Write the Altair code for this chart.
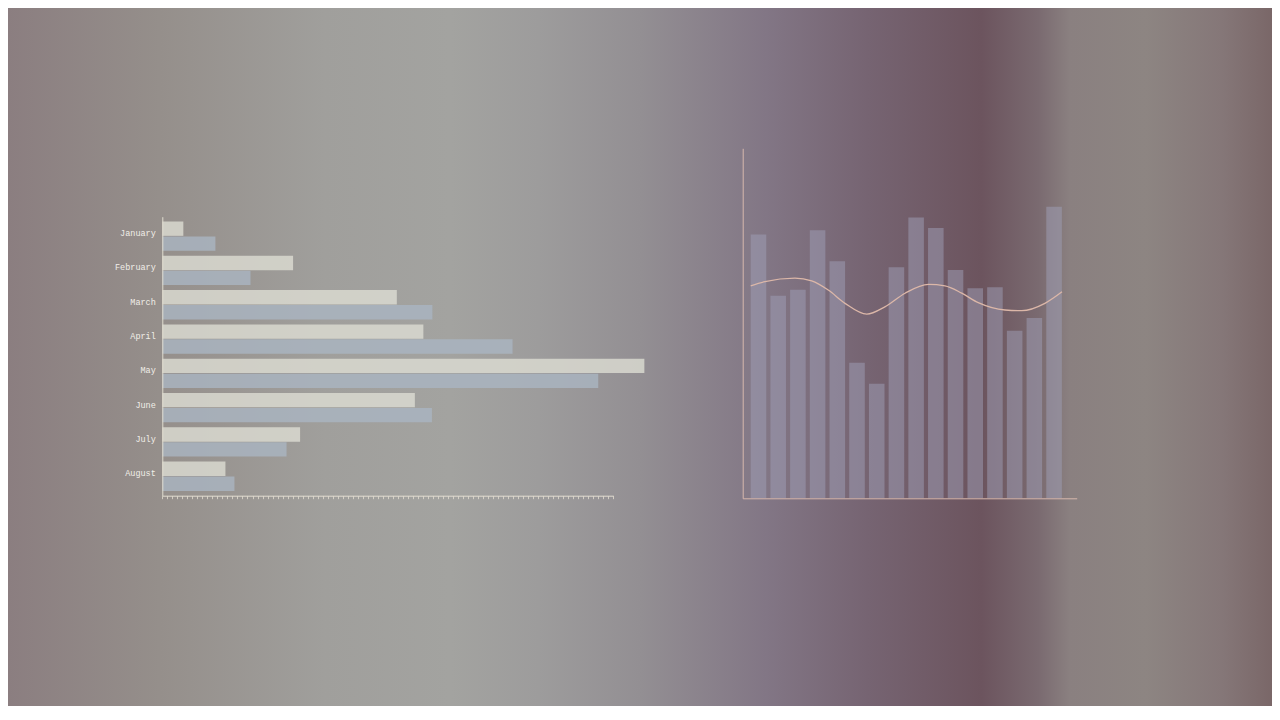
import altair as alt
import pandas as pd

# full-page canvas (page has an 8px margin, so page x = chart x + 8)
W, H = 1264, 698

months = ['January', 'February', 'March', 'April', 'May', 'June', 'July', 'August']
first_pass = [4.2, 26.1, 46.8, 52.1, 96.2, 50.4, 27.5, 12.6]
second_pass = [10.6, 17.6, 53.9, 69.9, 87.0, 53.8, 24.8, 14.4]

columns = list(range(1, 17))
column_values = [75.4, 57.9, 59.6, 76.6, 67.7, 38.7, 32.7, 66.0,
                 80.2, 77.2, 65.2, 60.0, 60.3, 47.9, 51.5, 83.3]

wave_pos = [0, 4.6, 14.2, 19.6, 24.9, 30.3, 37.3, 43.1, 49.6,
            57.1, 62.4, 67.8, 73.1, 81.7, 87.1, 94.5, 100]
wave_level = [60.7, 61.9, 62.9, 62.1, 59.5, 55.7, 52.6, 54.7, 58.6,
              61.1, 60.7, 58.6, 55.9, 53.8, 53.6, 55.7, 59.0]

bg_offsets = [0, 0.12, 0.25, 0.35, 0.42, 0.5, 0.6, 0.68, 0.77, 0.815, 0.84, 0.9, 0.96, 1]
bg_colors = ['#8b7e80', '#958f8b', '#a09f9c', '#a3a3a0', '#9d9c9c', '#938f93', '#827685',
             '#766472', '#6c545e', '#7a6a70', '#8a8080', '#8d8582', '#857778', '#7a6768']

LABEL = '#f1eee8'
CREAM_AXIS = '#e2ddd1'
PINK_AXIS = '#d8b8ad'

###
# Background wash
###

background = alt.Chart(alt.Data(values=[{}])).mark_rect(
    color=alt.Gradient(gradient='linear', x1=0, x2=1, y1=0, y2=0,
                       stops=[alt.GradientStop(offset=o, color=c) for o, c in zip(bg_offsets, bg_colors)])
).encode(x=alt.value(0), x2=alt.value(W), y=alt.value(0), y2=alt.value(H))

###
# Horizontal grouped bars (left)
###

df_h = pd.DataFrame({'month': months * 2,
                     'series': ['first'] * 8 + ['second'] * 8,
                     'value': first_pass + second_pass})

hbars = alt.Chart(df_h).mark_bar(opacity=0.82).encode(
    y=alt.Y('month:N', sort=months,
            scale=alt.Scale(range=[208.7, 487.7], paddingInner=0.146, paddingOuter=0.14),
            axis=alt.Axis(orient='left', offset=-154.3, title=None, ticks=False, grid=False, zindex=1,
                          domainColor=CREAM_AXIS, labelColor=LABEL, labelFont='Liberation Mono',
                          labelFontSize=8.5, labelPadding=7, labelOffset=-3)),
    yOffset=alt.YOffset('series:N', scale=alt.Scale(paddingInner=0.04)),
    x=alt.X('value:Q', scale=alt.Scale(domain=[0, 90], range=[154.3, 605.3], nice=False),
            axis=alt.Axis(orient='bottom', offset=-(H - 487.7), values=list(range(91)), labels=False,
                          title=None, grid=False, tickSize=3, tickColor=CREAM_AXIS, tickWidth=0.8,
                          zindex=1, domainColor=CREAM_AXIS)),
    color=alt.Color('series:N', scale=alt.Scale(domain=['first', 'second'], range=['#dcdcd2', '#aab4c1']),
                    legend=None),
)

###
# Column chart with wave (right)
###

df_v = pd.DataFrame({'col': columns, 'value': column_values})

vbars = alt.Chart(df_v).mark_bar(color='#a09fb8', opacity=0.5).encode(
    x=alt.X('col:O',
            scale=alt.Scale(range=[734.7, 1068.7], paddingInner=0.21, paddingOuter=0.58, align=0.35),
            axis=alt.Axis(orient='bottom', offset=-(H - 490.3), labels=False, ticks=False, title=None,
                          grid=False, domainColor=PINK_AXIS, zindex=1)),
    y=alt.Y('value:Q', scale=alt.Scale(domain=[0, 100], range=[490.3, 140.3], nice=False),
            axis=alt.Axis(orient='left', offset=-734.7, labels=False, ticks=False, title=None,
                          grid=False, domainColor=PINK_AXIS, zindex=1)),
)

df_w = pd.DataFrame({'pos': wave_pos, 'level': wave_level})

wave = alt.Chart(df_w).mark_line(color='#dcb7a8', strokeWidth=1.3, interpolate='monotone').encode(
    x=alt.X('pos:Q', scale=alt.Scale(domain=[0, 100], range=[742.7, 1054], nice=False), axis=None),
    y=alt.Y('level:Q', scale=alt.Scale(domain=[0, 100], range=[490.3, 140.3], nice=False), axis=None),
)

chart = alt.layer(background, hbars, vbars, wave)\
    .resolve_scale(x='independent', y='independent', color='independent')\
    .resolve_axis(x='independent', y='independent')\
    .properties(width=W, height=H, autosize=alt.AutoSizeParams(type='none'), padding=0)\
    .configure_view(stroke=None)\
    .configure_axis(grid=False, domainWidth=1)\
    .configure(background='#8b7e80')

chart.save("out.html", embed_options={"renderer": "svg", "actions": False})
